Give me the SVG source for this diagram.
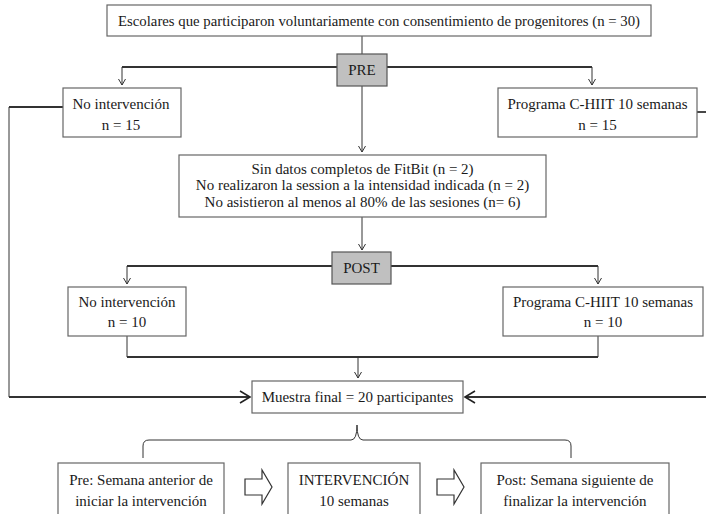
<svg xmlns="http://www.w3.org/2000/svg" width="706" height="514" viewBox="0 0 706 514">
<defs>
<marker id="sm" markerUnits="userSpaceOnUse" markerWidth="14" markerHeight="14" refX="0" refY="0" orient="auto" overflow="visible">
<path d="M-6,-3.5 L0,0 L-6,3.5" fill="none" stroke="#333" stroke-width="1"/>
</marker>
<marker id="lg" markerUnits="userSpaceOnUse" markerWidth="20" markerHeight="20" refX="0" refY="0" orient="auto" overflow="visible">
<path d="M-10,-6 L0,0 L-10,6" fill="none" stroke="#222" stroke-width="1.6"/>
</marker>
</defs>
<style>
.box{fill:#fff;stroke:#666;stroke-width:1.2}
.gray{fill:#c0c0c0;stroke:#555;stroke-width:1.2}
.t{font-family:"Liberation Serif","Times New Roman",serif;font-size:15px;fill:#1a1a1a;text-anchor:middle}
.ln{fill:none;stroke:#333;stroke-width:1}
.th{fill:none;stroke:#333;stroke-width:1.8}
.blk{fill:#fff;stroke:#333;stroke-width:1.2}
</style>
<rect width="706" height="514" fill="#fff"/>

<g id="connectors">
<line class="ln" x1="362" y1="36" x2="362" y2="54"/>
<polyline class="th" points="337,67 122,67"/>
<line class="ln" x1="122" y1="67" x2="122" y2="85" marker-end="url(#sm)"/>
<polyline class="th" points="387,67 592,67"/>
<line class="ln" x1="592" y1="67" x2="592" y2="85" marker-end="url(#sm)"/>
<line class="ln" x1="362" y1="86" x2="362" y2="152" marker-end="url(#sm)"/>
<line class="ln" x1="362" y1="217" x2="362" y2="250" marker-end="url(#sm)"/>
<polyline class="th" points="332,266 127,266"/>
<line class="ln" x1="127" y1="266" x2="127" y2="284" marker-end="url(#sm)"/>
<polyline class="th" points="391,266 598,266"/>
<line class="ln" x1="598" y1="266" x2="598" y2="284" marker-end="url(#sm)"/>
<polyline class="ln" points="127,336 127,357"/>
<polyline class="ln" points="598,336 598,357"/>
<line class="th" x1="127" y1="357" x2="598" y2="357"/>
<line class="ln" x1="358" y1="357" x2="358" y2="378" marker-end="url(#sm)"/>
<polyline class="th" points="63,107 9,107"/>
<line class="ln" x1="9" y1="107" x2="9" y2="397" stroke-width="1.4"/>
<line class="th" x1="9" y1="397" x2="250" y2="397" marker-end="url(#lg)"/>
<line class="th" x1="697" y1="112" x2="706" y2="112"/>
<line class="th" x1="706" y1="397" x2="465" y2="397" marker-end="url(#lg)"/>
<path class="ln" d="M143,458 L143,446 Q143,440 149,440 L351,440 Q357,440 357,425 Q357,440 363,440 L565,440 Q571,440 571,446 L571,458" stroke-width="1.2"/>
<path class="blk" d="M245,479 L262,479 L262,470 L272,487 L262,504 L262,495 L245,495 Z"/>
<path class="blk" d="M437,479 L454,479 L454,470 L464,487 L454,504 L454,495 L437,495 Z"/>
</g>

<g id="n-escolares">
<rect class="box" x="107" y="5" width="544" height="31"/>
<text class="t" x="379" y="26" textLength="522" lengthAdjust="spacingAndGlyphs">Escolares que participaron voluntariamente con consentimiento de progenitores (n = 30)</text>
</g>
<g id="n-pre">
<rect class="gray" x="337" y="54" width="50" height="32"/>
<text class="t" x="362" y="75">PRE</text>
</g>
<g id="n-nointerv-pre">
<rect class="box" x="63" y="88" width="118" height="49"/>
<text class="t" x="121" y="109">No intervención</text>
<text class="t" x="121" y="130">n = 15</text>
</g>
<g id="n-chiit-pre">
<rect class="box" x="498" y="88" width="199" height="49"/>
<text class="t" x="597.5" y="109">Programa C-HIIT 10 semanas</text>
<text class="t" x="597.5" y="130">n = 15</text>
</g>
<g id="n-excluidos">
<rect class="box" x="179" y="155" width="367" height="62"/>
<text class="t" x="362.5" y="174">Sin datos completos de FitBit (n = 2)</text>
<text class="t" x="362.5" y="190">No realizaron la session a la intensidad indicada (n = 2)</text>
<text class="t" x="362.5" y="207">No asistieron al menos al 80% de las sesiones (n= 6)</text>
</g>
<g id="n-post">
<rect class="gray" x="332" y="252" width="59" height="32"/>
<text class="t" x="361.5" y="273">POST</text>
</g>
<g id="n-nointerv-post">
<rect class="box" x="68" y="287" width="118" height="49"/>
<text class="t" x="127" y="307">No intervención</text>
<text class="t" x="127" y="327">n = 10</text>
</g>
<g id="n-chiit-post">
<rect class="box" x="503" y="287" width="200" height="49"/>
<text class="t" x="603" y="307">Programa C-HIIT 10 semanas</text>
<text class="t" x="603" y="327">n = 10</text>
</g>
<g id="n-muestra">
<rect class="box" x="252" y="381" width="211" height="32"/>
<text class="t" x="357.5" y="402">Muestra final = 20 participantes</text>
</g>
<g id="n-pre-semana">
<rect class="box" x="58" y="463" width="166" height="60"/>
<text class="t" x="141" y="485">Pre: Semana anterior de</text>
<text class="t" x="141" y="506">iniciar la intervención</text>
</g>
<g id="n-intervencion">
<rect class="box" x="288" y="463" width="132" height="60"/>
<text class="t" x="354" y="485">INTERVENCIÓN</text>
<text class="t" x="354" y="506">10 semanas</text>
</g>
<g id="n-post-semana">
<rect class="box" x="481" y="463" width="188" height="60"/>
<text class="t" x="575" y="485">Post: Semana siguiente de</text>
<text class="t" x="575" y="506">finalizar la intervención</text>
</g>
</svg>
